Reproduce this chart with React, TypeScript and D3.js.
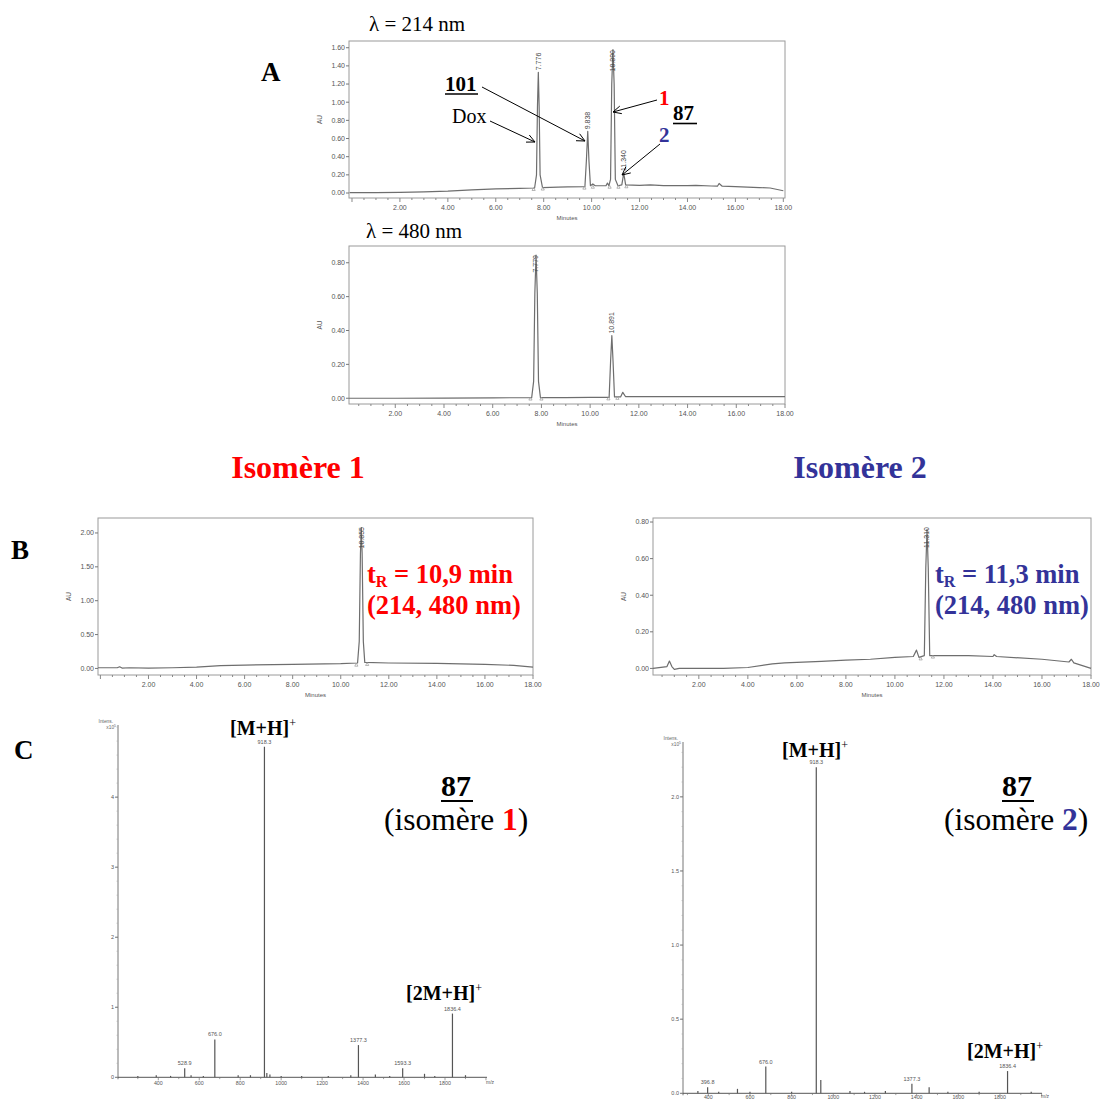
import React from "react";
import * as d3 from "d3";

const SERIF = "'Liberation Serif', 'Times New Roman', serif";
const SANS = "'Liberation Sans', Arial, sans-serif";
const RED = "#ff0000";
const BLUE = "#333399";

type Pt = [number, number];

// ---------- Panel A, 214 nm trace (minutes, AU) ----------
const traceA214: Pt[] = [
  [-0.1, 0.005], [1, 0.005], [2, 0.008], [3, 0.012], [4, 0.02], [5, 0.035], [6, 0.045], [7, 0.05],
  [7.62, 0.055], [7.7, 0.2], [7.74, 0.95], [7.776, 1.33], [7.81, 0.95], [7.85, 0.2], [7.95, 0.06],
  [8.6, 0.065], [9.0, 0.068], [9.72, 0.07], [9.78, 0.35], [9.838, 0.68], [9.89, 0.35], [9.95, 0.08],
  [10.05, 0.1], [10.15, 0.08], [10.6, 0.08], [10.66, 0.11], [10.72, 0.08], [10.79, 0.15], [10.84, 1.2],
  [10.89, 1.58], [10.94, 1.2], [10.99, 0.15], [11.1, 0.08], [11.26, 0.09], [11.34, 0.22], [11.42, 0.09],
  [12.0, 0.085], [12.45, 0.09], [13.0, 0.082], [14.0, 0.082], [14.35, 0.085], [15.0, 0.077], [15.25, 0.075],
  [15.32, 0.105], [15.45, 0.075], [16.0, 0.07], [17.0, 0.06], [17.45, 0.055], [18.0, 0.025],
];
const peaksA214 = [
  { rt: 7.776, au: 1.33, text: "7.776" },
  { rt: 9.838, au: 0.68, text: "9.838" },
  { rt: 10.89, au: 1.58, text: "10.890" },
  { rt: 11.34, au: 0.22, text: "11.340" },
];
const marksA214: Pt[] = [[7.58, 0.055], [7.96, 0.06], [9.7, 0.07], [10.05, 0.08], [10.75, 0.08], [11.12, 0.08], [11.45, 0.085]];

// ---------- Panel A, 480 nm trace ----------
const traceA480: Pt[] = [
  [0.1, 0.0], [2, 0.0], [4, 0.001], [6, 0.002], [7.6, 0.004], [7.68, 0.1], [7.73, 0.62], [7.779, 0.845],
  [7.83, 0.62], [7.88, 0.1], [7.96, 0.004], [9, 0.004], [10.0, 0.005], [10.78, 0.005], [10.84, 0.22],
  [10.891, 0.37], [10.94, 0.22], [11.0, 0.008], [11.25, 0.008], [11.34, 0.035], [11.45, 0.01], [12, 0.01],
  [14, 0.01], [16, 0.009], [18, 0.01],
];
const peaksA480 = [
  { rt: 7.779, au: 0.845, text: "7.779" },
  { rt: 10.891, au: 0.37, text: "10.891" },
];
const marksA480: Pt[] = [[7.55, 0.004], [8.0, 0.004], [10.75, 0.005], [11.12, 0.008]];

// ---------- Panel B, isomer 1 ----------
const traceB1: Pt[] = [
  [-0.1, 0.01], [0.7, 0.01], [0.8, 0.025], [0.9, 0.005], [1.2, 0.01], [2, 0.005], [3, 0.01], [4, 0.02],
  [5, 0.04], [6, 0.05], [8, 0.06], [10, 0.07], [10.7, 0.08], [10.77, 0.4], [10.82, 1.7], [10.855, 2.08],
  [10.89, 1.7], [10.94, 0.4], [11.0, 0.09], [12, 0.08], [14, 0.075], [16, 0.06], [17.2, 0.045], [18, 0.02],
];
const peaksB1 = [{ rt: 10.855, au: 2.08, text: "10.855" }];
const marksB1: Pt[] = [[10.65, 0.07], [11.1, 0.08]];

// ---------- Panel B, isomer 2 ----------
const traceB2: Pt[] = [
  [0.13, 0.0], [0.7, 0.01], [0.8, 0.04], [0.9, 0.01], [1.0, -0.005], [1.2, 0.0], [2, 0.0], [3, 0.0],
  [4, 0.005], [5, 0.025], [5.5, 0.03], [7, 0.038], [8, 0.045], [9, 0.05], [10, 0.06], [10.75, 0.065],
  [10.88, 0.1], [10.98, 0.06], [11.2, 0.07], [11.26, 0.55], [11.31, 0.76], [11.36, 0.55], [11.42, 0.07],
  [12, 0.07], [13, 0.07], [14, 0.065], [14.05, 0.075], [14.15, 0.065], [16, 0.05], [17.1, 0.035],
  [17.2, 0.05], [17.3, 0.03], [18, 0.0],
];
const peaksB2 = [{ rt: 11.31, au: 0.76, text: "11.310" }];
const marksB2: Pt[] = [[11.05, 0.06], [11.55, 0.07]];

// ---------- Panel C, mass spectra (m/z, intensity x10^5) ----------
const msIso1: Pt[] = [
  [300, 0.02], [390, 0.03], [460, 0.02], [528.9, 0.13], [560, 0.03], [620, 0.02], [676.0, 0.54],
  [790, 0.03], [850, 0.03], [918.3, 4.72], [930, 0.06], [945, 0.04], [1000, 0.02], [1100, 0.02],
  [1230, 0.02], [1340, 0.03], [1377.3, 0.46], [1460, 0.04], [1530, 0.02], [1593.3, 0.13],
  [1700, 0.05], [1750, 0.02], [1836.4, 0.91], [1900, 0.03],
];
const msIso1Labels = ["528.9", "676.0", "918.3", "1377.3", "1593.3", "1836.4"];

const msIso2: Pt[] = [
  [350, 0.015], [396.8, 0.04], [450, 0.01], [540, 0.03], [600, 0.01], [676.0, 0.18], [800, 0.01],
  [918.3, 2.2], [940, 0.09], [1080, 0.015], [1150, 0.01], [1250, 0.015], [1377.3, 0.065], [1460, 0.04],
  [1550, 0.01], [1700, 0.01], [1836.4, 0.15], [1950, 0.01],
];
const msIso2Labels = ["396.8", "676.0", "918.3", "1377.3", "1836.4"];

const auTicksA214 = [0, 0.2, 0.4, 0.6, 0.8, 1.0, 1.2, 1.4, 1.6];
const auTicksA480 = [0, 0.2, 0.4, 0.6, 0.8];
const auTicksB1 = [0, 0.5, 1.0, 1.5, 2.0];
const auTicksB2 = [0, 0.2, 0.4, 0.6, 0.8];
const minuteTicks = [2, 4, 6, 8, 10, 12, 14, 16, 18];
const mzTicks = [400, 600, 800, 1000, 1200, 1400, 1600, 1800];
const intensTicks1 = [0, 1, 2, 3, 4];
const intensTicks2 = [0, 0.5, 1.0, 1.5, 2.0];

type ChromProps = {
  left: number; right: number; top: number; bottom: number;
  tDom: [number, number]; auDom: [number, number];
  yTicks: number[]; trace: Pt[];
  peaks: { rt: number; au: number; text: string }[];
  marks: Pt[];
};

function Chromatogram({ left, right, top, bottom, tDom, auDom, yTicks, trace, peaks, marks }: ChromProps) {
  const x = d3.scaleLinear().domain(tDom).range([left, right]);
  const y = d3.scaleLinear().domain(auDom).range([bottom, top]);
  const line = d3.line<Pt>().x((d) => x(d[0])).y((d) => y(d[1]));
  const fmt = d3.format(".2f");
  const minors = d3.range(0, 18.01, 0.5).filter((t) => t >= tDom[0] && t <= tDom[1]);
  const fs = 7;
  return (
    <g>
      <rect x={left} y={top} width={right - left} height={bottom - top} fill="none" stroke="#9a9a9a" strokeWidth={1} />
      {yTicks.map((v) => (
        <g key={"y" + v}>
          <line x1={left - 3} x2={left} y1={y(v)} y2={y(v)} stroke="#777" />
          <text x={left - 4} y={y(v)} dy="0.35em" textAnchor="end" fontSize={fs} fontFamily={SANS} fill="#555">{fmt(v)}</text>
        </g>
      ))}
      {minors.map((t) => (
        <line key={"m" + t} x1={x(t)} x2={x(t)} y1={bottom} y2={bottom + (t % 2 === 0 ? 4 : 2)} stroke="#888" />
      ))}
      {minuteTicks.filter((t) => t <= tDom[1] + 0.01).map((t) => (
        <text key={"x" + t} x={x(t)} y={bottom + 12} textAnchor="middle" fontSize={fs} fontFamily={SANS} fill="#555">{fmt(t)}</text>
      ))}
      <text x={(left + right) / 2} y={bottom + 22} textAnchor="middle" fontSize={6} fontFamily={SANS} fill="#555">Minutes</text>
      <text transform={`translate(${left - 27},${(top + bottom) / 2}) rotate(-90)`} textAnchor="middle" fontSize={6.5} fontFamily={SANS} fill="#555">AU</text>
      <path d={line(trace) || ""} fill="none" stroke="#6e6e6e" strokeWidth={1.2} strokeLinejoin="round" />
      {marks.map((m, i) => (
        <path key={"k" + i} d={`M${x(m[0]) - 1.6},${y(m[1]) + 2.5} L${x(m[0])},${y(m[1]) - 0.5} L${x(m[0]) + 1.6},${y(m[1]) + 2.5} Z`} fill="none" stroke="#999" strokeWidth={0.7} />
      ))}
      {peaks.map((p) => {
        const len = p.text.length * fs * 0.56;
        const apex = y(p.au) - 2;
        const clamped = apex - len < top + 9;
        const yy = clamped ? top + 9 : apex;
        return (
          <text key={p.text} transform={`translate(${x(p.rt)},${yy}) rotate(-90)`} dy="0.35em" textAnchor={clamped ? "end" : "start"} fontSize={fs} fontFamily={SANS} fill="#444">{p.text}</text>
        );
      })}
    </g>
  );
}

type SpecProps = {
  axisX: number; axisEnd: number; zeroY: number; topY: number;
  mzRef: [number, number]; pxRef: [number, number];
  iDom: [number, number]; yTicks: number[]; yFmt: (v: number) => string;
  data: Pt[]; labels: string[]; tickLabelDy: number;
};

function Spectrum({ axisX, axisEnd, zeroY, topY, mzRef, pxRef, iDom, yTicks, yFmt, data, labels, tickLabelDy }: SpecProps) {
  const x = d3.scaleLinear().domain(mzRef).range(pxRef);
  const y = d3.scaleLinear().domain(iDom).range([zeroY, topY]);
  const mzMin = x.invert(axisX);
  const mzMax = x.invert(axisEnd);
  const minors = d3.range(100, 2100, 100).filter((m) => m > mzMin && m < mzMax);
  const yMinorStep = (yTicks[1] - yTicks[0]) / 5;
  const yMinors = d3.range(0, iDom[1], yMinorStep);
  return (
    <g>
      <line x1={axisX} x2={axisX} y1={topY} y2={zeroY + 2} stroke="#777" strokeWidth={1} />
      <line x1={axisX} x2={axisEnd} y1={zeroY} y2={zeroY} stroke="#555" strokeWidth={1} />
      {yMinors.map((v, i) => (
        <line key={"ym" + i} x1={axisX - 1.5} x2={axisX} y1={y(v)} y2={y(v)} stroke="#aaa" strokeWidth={0.6} />
      ))}
      {yTicks.map((v) => (
        <g key={"y" + v}>
          <line x1={axisX - 3} x2={axisX} y1={y(v)} y2={y(v)} stroke="#777" />
          <text x={axisX - 4} y={y(v)} dy="0.35em" textAnchor="end" fontSize={5.5} fontFamily={SANS} fill="#555">{yFmt(v)}</text>
        </g>
      ))}
      {minors.map((m) => (
        <line key={"xm" + m} x1={x(m)} x2={x(m)} y1={zeroY} y2={zeroY + (m % 200 === 0 ? 3 : 1.8)} stroke="#777" strokeWidth={0.7} />
      ))}
      {mzTicks.map((m) => (
        <text key={"x" + m} x={x(m)} y={zeroY + tickLabelDy} textAnchor="middle" fontSize={5.3} fontFamily={SANS} fill="#555">{m}</text>
      ))}
      <text x={axisEnd + 3} y={zeroY + tickLabelDy - 1} textAnchor="middle" fontSize={5} fontFamily={SANS} fill="#555">m/z</text>
      <text x={axisX - 5} y={topY - 2} textAnchor="end" fontSize={4.8} fontFamily={SANS} fill="#666">Intens.</text>
      <text x={axisX - 2} y={topY + 4} textAnchor="end" fontSize={4.8} fontFamily={SANS} fill="#666">x10<tspan dy={-2} fontSize={3.5}>5</tspan></text>
      {data.map((d, i) => (
        <line key={"s" + i} x1={x(d[0])} x2={x(d[0])} y1={zeroY} y2={y(d[1])} stroke="#555" strokeWidth={1.2} />
      ))}
      {data.filter((d) => labels.includes(d[0].toFixed(1))).map((d) => (
        <text key={"l" + d[0]} x={x(d[0])} y={y(d[1]) - 3} textAnchor="middle" fontSize={5.5} fontFamily={SANS} fill="#555">{d[0].toFixed(1)}</text>
      ))}
    </g>
  );
}

function Arrow({ x1, y1, x2, y2 }: { x1: number; y1: number; x2: number; y2: number }) {
  const a = Math.atan2(y2 - y1, x2 - x1);
  const L = 9;
  const s = 0.45;
  const p1 = [x2 - L * Math.cos(a - s), y2 - L * Math.sin(a - s)];
  const p2 = [x2 - L * Math.cos(a + s), y2 - L * Math.sin(a + s)];
  return (
    <g stroke="#000" strokeWidth={1} fill="none">
      <line x1={x1} y1={y1} x2={x2} y2={y2} />
      <polyline points={`${p1[0]},${p1[1]} ${x2},${y2} ${p2[0]},${p2[1]}`} />
    </g>
  );
}

function Ion({ x, y, label }: { x: number; y: number; label: string }) {
  return (
    <text x={x} y={y} fontFamily={SERIF} fontWeight="bold" fontSize={20} fill="#000">
      {label}
      <tspan dy={-8} fontSize={12} fontWeight="normal">+</tspan>
    </text>
  );
}

export default function App() {
  return (
    <svg width={1100} height={1100} style={{ position: "absolute", left: 0, top: 0, background: "#fff" }}>
      <rect x={0} y={0} width={1100} height={1100} fill="#fff" />
      {/* Panel A */}
      <text x={261} y={81} fontFamily={SERIF} fontWeight="bold" fontSize={27}>A</text>
      <text x={369} y={31} fontFamily={SERIF} fontSize={21}>λ = 214 nm</text>
      <Chromatogram left={349} right={785} top={41} bottom={198} tDom={[-0.125, 18.07]} auDom={[-0.055, 1.674]}
        yTicks={auTicksA214} trace={traceA214} peaks={peaksA214} marks={marksA214} />
      <text x={366} y={238} fontFamily={SERIF} fontSize={21}>λ = 480 nm</text>
      <Chromatogram left={349} right={785} top={246} bottom={404} tDom={[0.1, 18.0]} auDom={[-0.034, 0.899]}
        yTicks={auTicksA480} trace={traceA480} peaks={peaksA480} marks={marksA480} />

      {/* annotations A */}
      <text x={445} y={91} fontFamily={SERIF} fontWeight="bold" fontSize={21}>101</text>
      <line x1={445} x2={478} y1={94} y2={94} stroke="#000" strokeWidth={1.6} />
      <text x={452} y={123} fontFamily={SERIF} fontSize={20}>Dox</text>
      <Arrow x1={482} y1={87} x2={585} y2={141} />
      <Arrow x1={490} y1={121} x2={535} y2={142} />
      <text x={659} y={105} fontFamily={SERIF} fontWeight="bold" fontSize={21} fill={RED}>1</text>
      <Arrow x1={657} y1={100} x2={613} y2={112} />
      <text x={673} y={120} fontFamily={SERIF} fontWeight="bold" fontSize={21}>87</text>
      <line x1={673} x2={697} y1={123.5} y2={123.5} stroke="#000" strokeWidth={1.6} />
      <text x={659} y={142} fontFamily={SERIF} fontWeight="bold" fontSize={21} fill={BLUE}>2</text>
      <Arrow x1={660} y1={144} x2={622} y2={175} />

      {/* Isomer headers */}
      <text x={298} y={478} textAnchor="middle" fontFamily={SERIF} fontWeight="bold" fontSize={32} fill={RED}>Isomère 1</text>
      <text x={860} y={478} textAnchor="middle" fontFamily={SERIF} fontWeight="bold" fontSize={32} fill={BLUE}>Isomère 2</text>

      {/* Panel B */}
      <text x={11} y={559} fontFamily={SERIF} fontWeight="bold" fontSize={27}>B</text>
      <Chromatogram left={98} right={533} top={518} bottom={675} tDom={[-0.1, 18.0]} auDom={[-0.097, 2.221]}
        yTicks={auTicksB1} trace={traceB1} peaks={peaksB1} marks={marksB1} />
      <Chromatogram left={653} right={1091} top={518} bottom={675} tDom={[0.13, 18.0]} auDom={[-0.036, 0.822]}
        yTicks={auTicksB2} trace={traceB2} peaks={peaksB2} marks={marksB2} />
      <text x={367} y={583} fontFamily={SERIF} fontWeight="bold" fontSize={26.5} fill={RED}>
        t<tspan dy={4} fontSize={16}>R</tspan><tspan dy={-4}> = 10,9 min</tspan>
      </text>
      <text x={367} y={614} fontFamily={SERIF} fontWeight="bold" fontSize={26.5} fill={RED}>(214, 480 nm)</text>
      <text x={935} y={583} fontFamily={SERIF} fontWeight="bold" fontSize={26.5} fill={BLUE}>
        t<tspan dy={4} fontSize={16}>R</tspan><tspan dy={-4}> = 11,3 min</tspan>
      </text>
      <text x={935} y={614} fontFamily={SERIF} fontWeight="bold" fontSize={26.5} fill={BLUE}>(214, 480 nm)</text>

      {/* Panel C */}
      <text x={14} y={759} fontFamily={SERIF} fontWeight="bold" fontSize={27}>C</text>
      <Spectrum axisX={118} axisEnd={487} zeroY={1077.3} topY={725} mzRef={[400, 1800]} pxRef={[158.3, 445]}
        iDom={[0, 5.03]} yTicks={intensTicks1} yFmt={(v) => String(v)} data={msIso1} labels={msIso1Labels} tickLabelDy={8} />
      <Spectrum axisX={683} axisEnd={1042} zeroY={1093.3} topY={742} mzRef={[400, 1000]} pxRef={[708.3, 833.3]}
        iDom={[0, 2.37]} yTicks={intensTicks2} yFmt={d3.format(".1f")} data={msIso2} labels={msIso2Labels} tickLabelDy={5.5} />

      <Ion x={230} y={735} label="[M+H]" />
      <Ion x={406} y={1000} label="[2M+H]" />
      <Ion x={782} y={757} label="[M+H]" />
      <Ion x={967} y={1058} label="[2M+H]" />

      <text x={441} y={796} fontFamily={SERIF} fontWeight="bold" fontSize={30}>87</text>
      <line x1={441} x2={473} y1={801} y2={801} stroke="#000" strokeWidth={2} />
      <text x={384} y={830} fontFamily={SERIF} fontSize={31.5}>(isomère <tspan fill={RED} fontWeight="bold">1</tspan>)</text>
      <text x={1002} y={796} fontFamily={SERIF} fontWeight="bold" fontSize={30}>87</text>
      <line x1={1002} x2={1034} y1={801} y2={801} stroke="#000" strokeWidth={2} />
      <text x={944} y={830} fontFamily={SERIF} fontSize={31.5}>(isomère <tspan fill={BLUE} fontWeight="bold">2</tspan>)</text>
    </svg>
  );
}
